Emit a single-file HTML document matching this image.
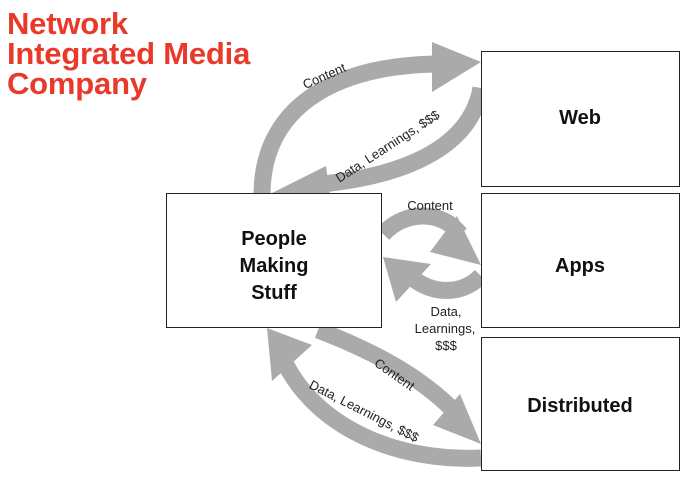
<!DOCTYPE html>
<html><head><style>
body{margin:0;width:700px;height:479px;background:#fff;overflow:hidden;position:relative;font-family:"Liberation Sans",sans-serif}
.t{position:absolute;left:7px;top:9px;color:#e8392b;font-weight:bold;font-size:31px;line-height:30px;letter-spacing:-0.2px}
</style></head><body>
<div class="t">Network<br>Integrated Media<br>Company</div>
<svg width="700" height="479" style="position:absolute;left:0;top:0" font-family="Liberation Sans, sans-serif">
<g fill="none" stroke="#aaa" stroke-width="17">
<path d="M262 195 C262 110 330 66 436 64"/>
<path d="M481 88 C470 150 400 176 322 184"/>
<path d="M383 234 C405 210 442 210 460 234"/>
<path d="M481 276 C460 297 428 294 408 274"/>
<path d="M318 330 C370 350 420 375 458 415"/>
<path d="M481 458 C400 462 320 430 286 365"/>
</g>
<g fill="#aaa">
<polygon points="481,62 432,42 432,92"/>
<polygon points="272,193 326,166 332,210"/>
<polygon points="481,265 457,216 430,252"/>
<polygon points="383,257 396,302 431,264"/>
<polygon points="481,444 460,394 433,425"/>
<polygon points="267,328 272,381 312,345"/>
</g>
<g fill="#fff" stroke="#222" stroke-width="1">
<rect x="481.5" y="51.5" width="198" height="135"/>
<rect x="481.5" y="193.5" width="198" height="134"/>
<rect x="481.5" y="337.5" width="198" height="133"/>
<rect x="166.5" y="193.5" width="215" height="134"/>
</g>
<g font-weight="bold" font-size="20" text-anchor="middle" fill="#111">
<text x="580" y="124">Web</text>
<text x="580" y="272">Apps</text>
<text x="580" y="412">Distributed</text>
<text x="274" y="245">People</text>
<text x="274" y="272">Making</text>
<text x="274" y="299">Stuff</text>
</g>
<g font-size="13" fill="#222" text-anchor="middle">
<text transform="translate(326,80) rotate(-24)">Content</text>
<text transform="translate(390,150) rotate(-33)">Data, Learnings, $$$</text>
<text x="430" y="210">Content</text>
<text x="446" y="316">Data,</text>
<text x="445" y="333">Learnings,</text>
<text x="446" y="350">$$$</text>
<text transform="translate(392,378) rotate(35)">Content</text>
<text transform="translate(362,415) rotate(27)">Data, Learnings, $$$</text>
</g>
</svg>
</body></html>
